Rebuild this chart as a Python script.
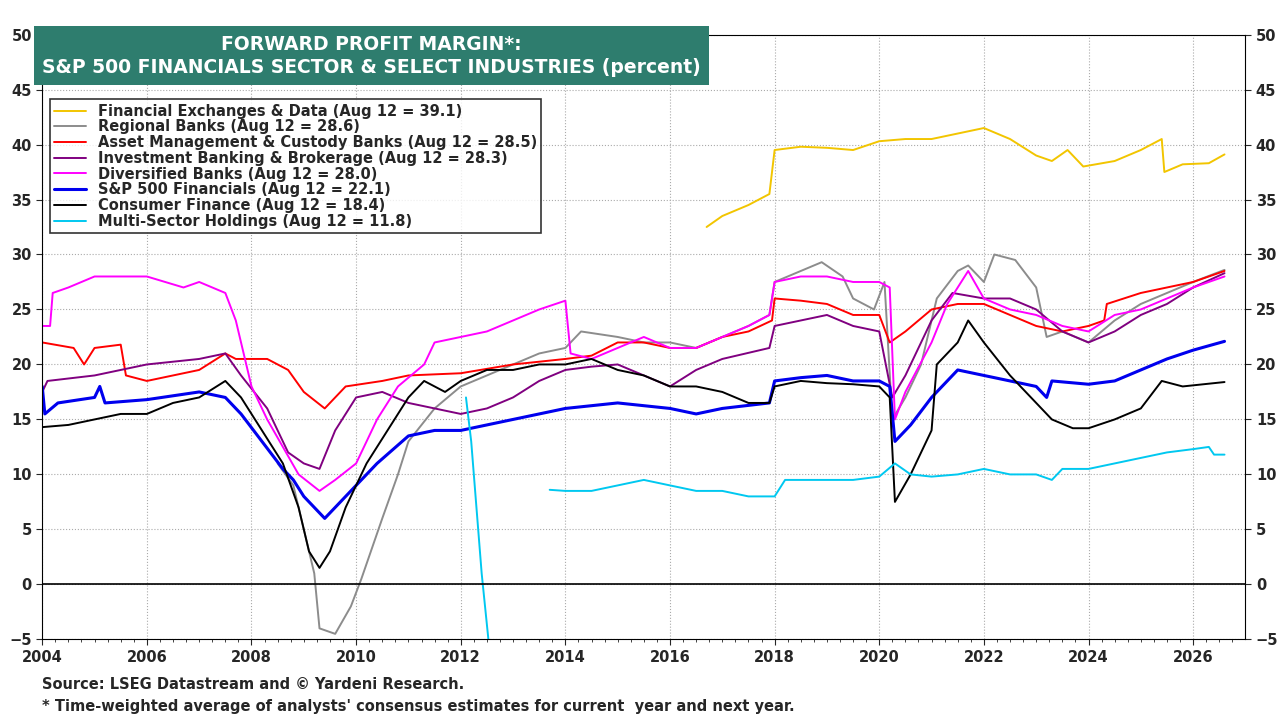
import numpy as np, pandas as pd, matplotlib
matplotlib.use("Agg")
import matplotlib.pyplot as plt, seaborn as sns

fin_exch = [(2016.7,32.5),(2017,33.5),(2017.5,34.5),(2017.9,35.5),(2018.0,39.5),(2018.5,39.8),(2019,39.7),(2019.5,39.5),(2020,40.3),(2020.5,40.5),(2021,40.5),(2021.5,41),(2022,41.5),(2022.5,40.5),(2023,39),(2023.3,38.5),(2023.6,39.5),(2023.9,38),(2024.5,38.5),(2025,39.5),(2025.4,40.5),(2025.45,37.5),(2025.8,38.2),(2026.3,38.3),(2026.6,39.1)]
regional = [(2008.5,11),(2008.8,9),(2009.0,5),(2009.2,1),(2009.3,-4),(2009.6,-4.5),(2009.9,-2),(2010.1,0.5),(2010.5,6),(2010.8,10),(2011,13),(2011.5,16),(2012,18),(2012.5,19),(2013,20),(2013.5,21),(2014,21.5),(2014.3,23),(2015,22.5),(2015.5,22),(2016,22),(2016.5,21.5),(2017,22.5),(2017.5,23.5),(2017.9,24.5),(2018.0,27.5),(2018.5,28.5),(2018.9,29.3),(2019.3,28),(2019.5,26),(2019.9,25),(2020.1,27.5),(2020.25,15),(2020.5,17),(2020.8,20),(2021.1,26),(2021.5,28.5),(2021.7,29),(2022.0,27.5),(2022.2,30),(2022.6,29.5),(2023.0,27),(2023.2,22.5),(2023.5,23),(2024,22),(2024.5,24),(2025,25.5),(2025.5,26.5),(2026,27.5),(2026.6,28.6)]
asset_mgmt = [(2004,22),(2004.6,21.5),(2004.8,20),(2005,21.5),(2005.5,21.8),(2005.6,19),(2006.0,18.5),(2006.5,19),(2007,19.5),(2007.5,21),(2007.7,20.5),(2008.3,20.5),(2008.7,19.5),(2009,17.5),(2009.4,16),(2009.8,18),(2010.5,18.5),(2011,19),(2012,19.2),(2013,20),(2014,20.5),(2014.5,20.8),(2015,22),(2015.5,22),(2016,21.5),(2016.5,21.5),(2017,22.5),(2017.5,23),(2017.95,24),(2018.0,26),(2018.5,25.8),(2019,25.5),(2019.5,24.5),(2020,24.5),(2020.2,22),(2020.5,23),(2021,25),(2021.5,25.5),(2022,25.5),(2022.5,24.5),(2023,23.5),(2023.5,23),(2024,23.5),(2024.3,24),(2024.35,25.5),(2025,26.5),(2025.5,27),(2026,27.5),(2026.6,28.5)]
inv_bank = [(2004,17.5),(2004.1,18.5),(2005,19),(2005.5,19.5),(2006,20),(2007,20.5),(2007.5,21),(2007.8,19),(2008.3,16),(2008.7,12),(2009,11),(2009.3,10.5),(2009.6,14),(2010,17),(2010.5,17.5),(2011,16.5),(2011.5,16),(2012,15.5),(2012.5,16),(2013,17),(2013.5,18.5),(2014,19.5),(2014.5,19.8),(2015,20),(2015.5,19),(2016,18),(2016.5,19.5),(2017,20.5),(2017.9,21.5),(2018.0,23.5),(2018.5,24),(2019,24.5),(2019.5,23.5),(2020,23),(2020.25,17),(2020.5,19),(2021,24),(2021.4,26.5),(2022,26),(2022.5,26),(2023,25),(2023.5,23),(2024,22),(2024.5,23),(2025,24.5),(2025.5,25.5),(2026,27),(2026.6,28.3)]
diversified = [(2004,23.5),(2004.15,23.5),(2004.2,26.5),(2004.5,27),(2005,28),(2006,28),(2006.7,27),(2007,27.5),(2007.5,26.5),(2007.7,24),(2008,18),(2008.3,15),(2008.6,12.5),(2008.9,10),(2009.3,8.5),(2009.6,9.5),(2010,11),(2010.4,15),(2010.8,18),(2011.3,20),(2011.5,22),(2012,22.5),(2012.5,23),(2013,24),(2013.5,25),(2014,25.8),(2014.1,21),(2014.5,20.5),(2015,21.5),(2015.5,22.5),(2016,21.5),(2016.5,21.5),(2017,22.5),(2017.5,23.5),(2017.9,24.5),(2018.0,27.5),(2018.5,28),(2019,28),(2019.5,27.5),(2020,27.5),(2020.2,27),(2020.3,15),(2020.5,17.5),(2021,22),(2021.3,25.5),(2021.7,28.5),(2022,26),(2022.5,25),(2023,24.5),(2023.5,23.5),(2024,23),(2024.5,24.5),(2025,25),(2025.5,26),(2026,27),(2026.6,28.0)]
sp_fin = [(2004,18),(2004.05,15.5),(2004.3,16.5),(2005,17),(2005.1,18),(2005.2,16.5),(2006,16.8),(2007,17.5),(2007.5,17),(2007.8,15.5),(2008.2,13),(2008.6,10.5),(2008.8,9.5),(2009,8),(2009.4,6),(2009.7,7.5),(2010,9),(2010.4,11),(2011,13.5),(2011.5,14),(2012,14),(2012.5,14.5),(2013,15),(2013.5,15.5),(2014,16),(2015,16.5),(2016,16),(2016.5,15.5),(2017,16),(2017.9,16.5),(2018.0,18.5),(2018.5,18.8),(2019,19),(2019.5,18.5),(2020,18.5),(2020.2,18),(2020.3,13),(2020.6,14.5),(2021,17),(2021.5,19.5),(2022,19),(2022.5,18.5),(2023,18),(2023.2,17),(2023.3,18.5),(2024,18.2),(2024.5,18.5),(2025,19.5),(2025.5,20.5),(2026,21.3),(2026.6,22.1)]
cons_fin = [(2004,14.3),(2004.5,14.5),(2005,15),(2005.5,15.5),(2006,15.5),(2006.5,16.5),(2007,17),(2007.5,18.5),(2007.8,17),(2008.2,14),(2008.6,11),(2008.9,7),(2009.1,3),(2009.3,1.5),(2009.5,3),(2009.8,7),(2010.2,11),(2010.6,14),(2011,17),(2011.3,18.5),(2011.7,17.5),(2012,18.5),(2012.5,19.5),(2013,19.5),(2013.5,20),(2014,20),(2014.5,20.5),(2015,19.5),(2015.5,19),(2016,18),(2016.5,18),(2017,17.5),(2017.5,16.5),(2017.9,16.5),(2018.0,18),(2018.5,18.5),(2019,18.3),(2019.5,18.2),(2020,18),(2020.2,17),(2020.3,7.5),(2020.6,10),(2021,14),(2021.1,20),(2021.5,22),(2021.7,24),(2022,22),(2022.5,19),(2023,16.5),(2023.3,15),(2023.7,14.2),(2024,14.2),(2024.5,15),(2025,16),(2025.4,18.5),(2025.8,18),(2026.6,18.4)]
multi_a = [(2012.1,17),(2012.2,13),(2012.3,7),(2012.4,1),(2012.55,-6)]
multi_b = [(2013.7,8.6),(2014,8.5),(2014.5,8.5),(2015,9),(2015.5,9.5),(2016,9),(2016.5,8.5),(2017,8.5),(2017.5,8),(2018,8),(2018.2,9.5),(2019,9.5),(2019.5,9.5),(2020,9.8),(2020.3,11),(2020.6,10),(2021,9.8),(2021.5,10),(2022,10.5),(2022.5,10),(2023,10),(2023.3,9.5),(2023.5,10.5),(2024,10.5),(2024.5,11),(2025,11.5),(2025.5,12),(2026,12.3),(2026.3,12.5),(2026.4,11.8),(2026.6,11.8)]

series = [
 ("Financial Exchanges & Data (Aug 12 = 39.1)", [fin_exch], "#F2C500"),
 ("Regional Banks (Aug 12 = 28.6)", [regional], "#8C8C8C"),
 ("Asset Management & Custody Banks (Aug 12 = 28.5)", [asset_mgmt], "#FF0000"),
 ("Investment Banking & Brokerage (Aug 12 = 28.3)", [inv_bank], "#800080"),
 ("Diversified Banks (Aug 12 = 28.0)", [diversified], "#FF00FF"),
 ("S&P 500 Financials (Aug 12 = 22.1)", [sp_fin], "#0000EE"),
 ("Consumer Finance (Aug 12 = 18.4)", [cons_fin], "#000000"),
 ("Multi-Sector Holdings (Aug 12 = 11.8)", [multi_a, multi_b], "#00C8F0"),
]

sns.set_style("white")
fig = plt.figure(figsize=(12.8, 7.2), dpi=100)
ax = fig.add_axes([0.033, 0.112, 0.94, 0.84])
for label, segs, col in series:
    lw = 2.2 if "S&P" in label else 1.4
    for i, seg in enumerate(segs):
        df = pd.DataFrame(seg, columns=["x", "y"])
        sns.lineplot(data=df, x="x", y="y", ax=ax, color=col, lw=lw,
                     label=label if i == 0 else None, estimator=None, sort=False)
ax.axhline(0, color="black", lw=1.2)
ax.set_xlim(2004, 2027)
ax.set_ylim(-5, 50)
ax.set_xticks(range(2004, 2027, 2))
ax.set_yticks(range(-5, 51, 5))
ax.set_xlabel(""); ax.set_ylabel("")
ax.grid(True, ls=":", color="#aaaaaa", lw=0.8)
ax.tick_params(labelsize=10.5, length=4, direction="out", right=True, labelright=True, bottom=True, left=True)
for t in ax.get_xticklabels() + ax.get_yticklabels():
    t.set_fontweight("bold")
for t in ax.yaxis.get_ticklabels(which="both"):
    t.set_fontweight("bold")
ax.set_xticks(np.arange(2004, 2027, 0.25), minor=True)
ax.tick_params(which="minor", length=2, bottom=True)
for s in ax.spines.values():
    s.set_color("black")
leg = ax.legend(loc="upper left", bbox_to_anchor=(0.0, 0.905), frameon=True, fancybox=False,
                edgecolor="black", fontsize=10.5, handlelength=2.2, borderpad=0.3, labelspacing=0.05,
                prop={"weight": "bold", "size": 10.5})
leg.get_frame().set_linewidth(1.2)
ax.text(0.0, 1.0, "FORWARD PROFIT MARGIN*:\nS&P 500 FINANCIALS SECTOR & SELECT INDUSTRIES (percent)",
        transform=ax.transAxes, ha="left", va="top", color="white", fontsize=13.5, fontweight="bold",
        linespacing=1.3, multialignment="center",
        bbox=dict(boxstyle="square,pad=0.45", fc="#2E7D6E", ec="none"))
fig.text(0.033, 0.043, "Source: LSEG Datastream and © Yardeni Research.", fontsize=10.5, fontweight="bold")
fig.text(0.033, 0.012, "* Time-weighted average of analysts' consensus estimates for current  year and next year.",
         fontsize=10.5, fontweight="bold")
fig.savefig("out.png", dpi=100)
